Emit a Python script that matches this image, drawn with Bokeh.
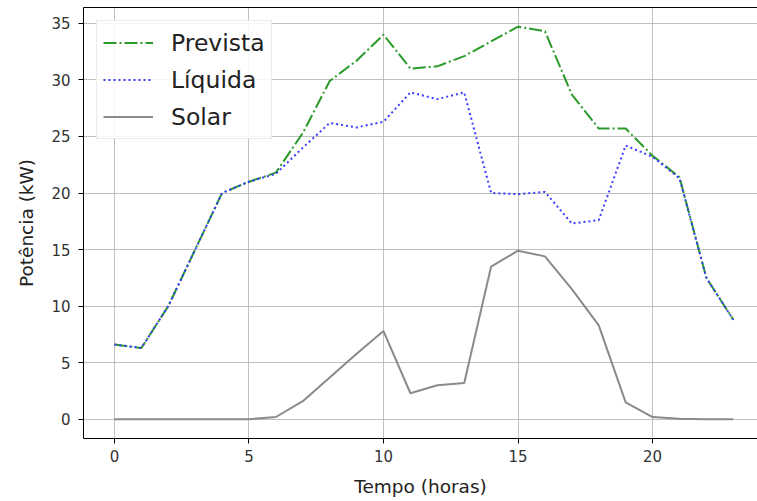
from bokeh.plotting import figure
from bokeh.models import Range1d, Legend, LegendItem, FixedTicker, LinearAxis
from bokeh.embed import file_html
from bokeh.resources import INLINE

hours = list(range(24))
prevista = [6.6, 6.3, 10.0, 15.0, 20.0, 21.0, 21.8, 25.3, 29.9, 31.7, 34.0, 31.0, 31.2, 32.1, 33.4, 34.7, 34.3, 28.7, 25.7, 25.7, 23.3, 21.4, 12.5, 8.8]
liquida = [6.6, 6.3, 10.0, 15.0, 20.0, 21.0, 21.7, 24.0, 26.2, 25.8, 26.3, 28.9, 28.3, 28.9, 20.0, 19.9, 20.1, 17.3, 17.6, 24.2, 23.2, 21.3, 12.5, 8.8]
solar = [0.0, 0.0, 0.0, 0.0, 0.0, 0.0, 0.2, 1.6, 3.7, 5.8, 7.8, 2.3, 3.0, 3.2, 13.5, 14.9, 14.4, 11.5, 8.3, 1.5, 0.2, 0.05, 0.0, 0.0]
x_ticks = [0, 5, 10, 15, 20]
y_ticks = [0, 5, 10, 15, 20, 25, 30, 35]
series_names = ["Prevista", "Líquida", "Solar"]

p = figure(width=757, height=501, output_backend="svg", toolbar_location=None,
           x_range=Range1d(-1.15, 23.9), y_range=Range1d(-1.7, 36.4),
           min_border_left=83, min_border_right=0, min_border_top=7, min_border_bottom=63)

p.outline_line_color = None
p.background_fill_color = "white"
p.border_fill_color = "white"

font = "DejaVu Sans"
for ax in (p.xaxis[0], p.yaxis[0]):
    ax.axis_line_color = "black"
    ax.major_tick_line_color = "black"
    ax.major_tick_out = 5
    ax.major_tick_in = 0
    ax.minor_tick_line_color = None
    ax.major_label_text_font = font
    ax.major_label_text_font_size = "15px"
    ax.major_label_text_color = "#333333"
    ax.axis_label_text_font = font
    ax.axis_label_text_font_size = "18.5px"
    ax.axis_label_text_font_style = "normal"
    ax.axis_label_text_color = "#222222"

p.xaxis.ticker = FixedTicker(ticks=x_ticks)
p.yaxis.ticker = FixedTicker(ticks=y_ticks)
p.xaxis.axis_label = "Tempo (horas)"
p.yaxis.axis_label = "Potência (kW)"
p.xaxis.major_label_standoff = 6
p.yaxis.major_label_standoff = 8
p.xaxis.axis_label_standoff = 11
p.yaxis.axis_label_standoff = 11

top_spine = LinearAxis(ticker=FixedTicker(ticks=[]), axis_line_color="black",
                       major_tick_line_color=None, minor_tick_line_color=None,
                       major_label_text_font_size="0px", major_label_standoff=0,
                       major_tick_out=0, major_tick_in=0)
p.add_layout(top_spine, "above")

p.xgrid.ticker = FixedTicker(ticks=x_ticks)
p.ygrid.ticker = FixedTicker(ticks=y_ticks)
p.grid.grid_line_color = "#b0b0b0"
p.grid.grid_line_width = 1
p.grid.grid_line_alpha = 0.8

r1 = p.line(hours, prevista, line_color="#2a9a2a", line_width=2, line_dash="13 3 2 3")
r2 = p.line(hours, liquida, line_color="#3b3bff", line_width=2, line_dash="2 3")
r3 = p.line(hours, solar, line_color="#8a8a8a", line_width=2)

legend = Legend(items=[LegendItem(label=series_names[0], renderers=[r1]),
                       LegendItem(label=series_names[1], renderers=[r2]),
                       LegendItem(label=series_names[2], renderers=[r3])],
                location="top_left")
legend.margin = 13
legend.padding = 6
legend.spacing = 6
legend.glyph_width = 50
legend.glyph_height = 31
legend.label_height = 31
legend.label_standoff = 18
legend.label_text_font = font
legend.label_text_font_size = "23.5px"
legend.label_text_color = "#222222"
legend.border_line_color = "#d8d8d8"
legend.border_line_width = 1
legend.background_fill_alpha = 0.85
p.add_layout(legend)

open("out.html", "w").write(file_html(p, INLINE))
